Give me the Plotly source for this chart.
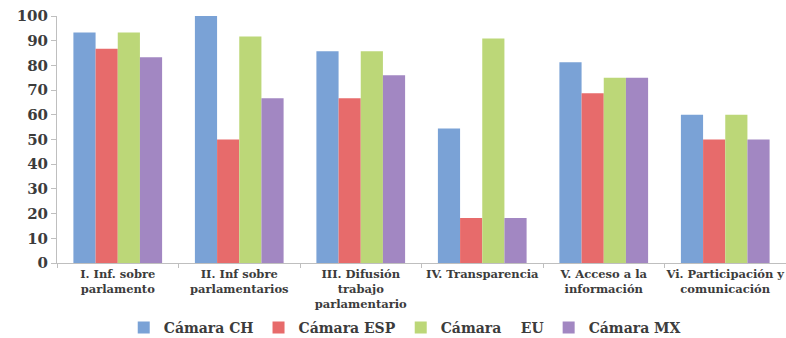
import plotly.graph_objects as go

# Categories (x axis) and scores per chamber
categorias = [
    "I. Inf. sobre<br>parlamento",
    "II. Inf sobre<br>parlamentarios",
    "III. Difusión<br>trabajo<br>parlamentario",
    "IV. Transparencia",
    "V. Acceso a la<br>información",
    "Vi. Participación y<br>comunicación",
]

camara_ch = [93.3, 100.0, 85.7, 54.5, 81.25, 60.0]
camara_esp = [86.7, 50.0, 66.7, 18.2, 68.75, 50.0]
camara_eu = [93.3, 91.7, 85.7, 90.9, 75.0, 60.0]
camara_mx = [83.3, 66.7, 76.0, 18.2, 75.0, 50.0]

series = [
    ("Cámara CH", camara_ch, "#7aa2d6"),
    ("Cámara ESP", camara_esp, "#e76b6b"),
    ("Cámara\u00a0\u00a0\u00a0\u00a0EU", camara_eu, "#bcd778"),
    ("Cámara MX", camara_mx, "#a287c2"),
]

texto = "#3c3c3c"
eje = "#bfbfbf"
fuente = "DejaVu Serif"

fig = go.Figure()
for nombre, valores, color in series:
    fig.add_trace(go.Bar(
        x=categorias,
        y=valores,
        name=nombre,
        marker=dict(color=color, line=dict(width=0)),
    ))

fig.update_layout(
    width=786,
    height=338,
    margin=dict(l=57, r=0, t=16, b=75, autoexpand=False),
    paper_bgcolor="white",
    plot_bgcolor="white",
    barmode="group",
    bargap=0.27,
    bargroupgap=0,
    font=dict(family=fuente, color=texto),
    showlegend=True,
    legend=dict(
        orientation="h",
        x=0.477,
        xanchor="center",
        yref="container",
        y=0.03,
        yanchor="middle",
        bgcolor="rgba(0,0,0,0)",
        font=dict(family=fuente, size=14, color=texto, weight="bold"),
        itemwidth=30,
        tracegroupgap=0,
    ),
)

fig.update_xaxes(
    automargin=False,
    tickangle=0,
    showline=True,
    linecolor=eje,
    linewidth=1,
    ticks="outside",
    tickson="boundaries",
    ticklen=4,
    tickcolor=eje,
    showgrid=False,
    tickfont=dict(family=fuente, size=11.5, color=texto, weight="bold"),
)

fig.update_yaxes(
    automargin=False,
    range=[0, 100],
    dtick=10,
    showline=True,
    linecolor=eje,
    linewidth=1,
    ticks="outside",
    ticklen=5,
    tickcolor=eje,
    showgrid=False,
    zeroline=False,
    tickfont=dict(family=fuente, size=15, color=texto, weight="bold"),
)

fig.write_html("out.html")
